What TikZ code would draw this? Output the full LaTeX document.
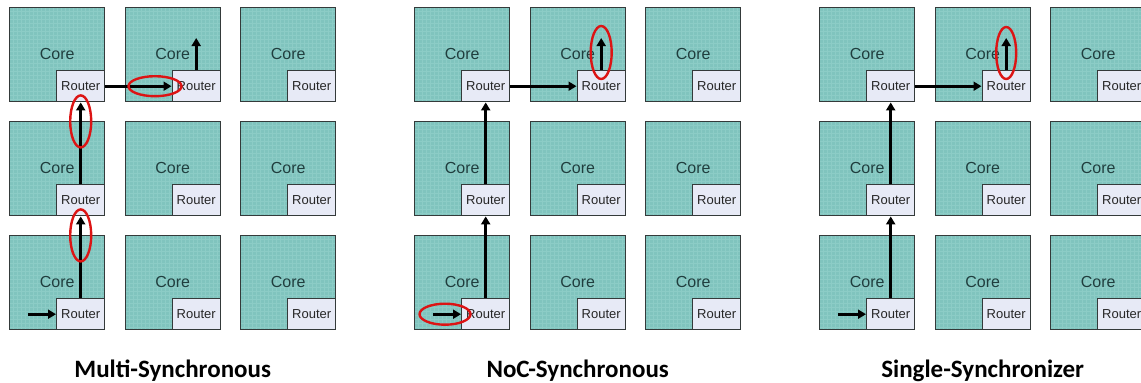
\documentclass[tikz,border=0pt]{standalone}
\usepackage{fontspec}
\setmainfont{Liberation Sans}
\newfontfamily\titlefont{Carlito}
\usepackage{xcolor}
\usepackage{tikz}
\usetikzlibrary{positioning, arrows.meta, calc}
\definecolor{coreteal}{RGB}{128,196,190}
\definecolor{gridteal}{RGB}{140,204,198}
\definecolor{routerbg}{RGB}{231,234,246}
\definecolor{tileedge}{RGB}{52,58,58}
\definecolor{coretext}{RGB}{32,62,62}
\definecolor{syncred}{RGB}{220,20,20}
\tikzstyle{tile} = [draw=tileedge, line width=1.4pt, fill=coreteal, minimum width=95pt, minimum height=94pt, inner sep=0pt, anchor=north west,
  path picture={\draw[gridteal, line width=0.3pt] (path picture bounding box.south west) grid[step=4pt] (path picture bounding box.north east);}]
\tikzstyle{router} = [draw=tileedge, line width=1.4pt, fill=routerbg, minimum width=48pt, minimum height=31pt, inner sep=0pt, anchor=south east, text=black!85, font=\fontsize{13}{15}\selectfont]
\tikzstyle{corelabel} = [text=coretext, font=\fontsize{16}{18}\selectfont]
\tikzstyle{title} = [font=\titlefont\bfseries\fontsize{25}{29}\selectfont]
\tikzstyle{arrow} = [line width=2.7pt, -{Triangle[length=8pt, width=9pt]}]
\tikzstyle{sync} = [draw=syncred, line width=2.4pt]

\begin{document}
\begin{tikzpicture}[x=1pt, y=-1pt]
\useasboundingbox[fill=white] (0,0) rectangle (1141,383);

% Tiles: core with router in the corner
\foreach \p in {1,2,3} {
  \foreach \r in {1,2,3} {
    \foreach \c in {1,2,3} {
      \node[tile] (t\p-\r-\c) at ({9+405*(\p-1)+115.5*(\c-1)}, {7+114*(\r-1)}) {};
      \node[corelabel] (c\p-\r-\c) at ($(t\p-\r-\c.center)+(0,-1)$) {Core};
      \node[router] (r\p-\r-\c) at (t\p-\r-\c.south east) {Router};
    }
  }
}

% Path of a packet
\foreach \p in {1,2,3} {
  \coordinate (in\p) at ($(r\p-3-1.west)+(-28,0)$);
  \coordinate (out\p) at ($(r\p-1-2.north)+(0,-32)$);
  \draw[arrow] (in\p) -- (r\p-3-1.west);
  \draw[arrow] (r\p-3-1.north) -- (r\p-2-1.south);
  \draw[arrow] (r\p-2-1.north) -- (r\p-1-1.south);
  \draw[arrow] (r\p-1-1.east) -- (r\p-1-2.west);
  \draw[arrow] (r\p-1-2.north) -- (out\p);
}

% Synchronizers
\draw[sync] ($(r1-2-1.south)+(0,19)$) ellipse (10.5 and 26);
\draw[sync] ($(r1-1-1.south)+(0,19)$) ellipse (10.5 and 26);
\draw[sync] ($(r1-1-2.west)+(-16.5,0)$) ellipse (26.5 and 10);
\draw[sync] ($(r2-3-1.west)+(-16,0)$) ellipse (25.5 and 10.5);
\draw[sync] ($(r2-1-2.north)+(0,-17.5)$) ellipse (10.5 and 26.5);
\draw[sync] ($(r3-1-2.north)+(0,-17)$) ellipse (10 and 26);

% Titles
\node[title] (title1) at ($(t1-3-2.south)+(0,40)$) {Multi-Synchronous};
\node[title] (title2) at ($(t2-3-2.south)+(0,40)$) {NoC-Synchronous};
\node[title] (title3) at ($(t3-3-2.south)+(0,40)$) {Single-Synchronizer};
\end{tikzpicture}
\end{document}
